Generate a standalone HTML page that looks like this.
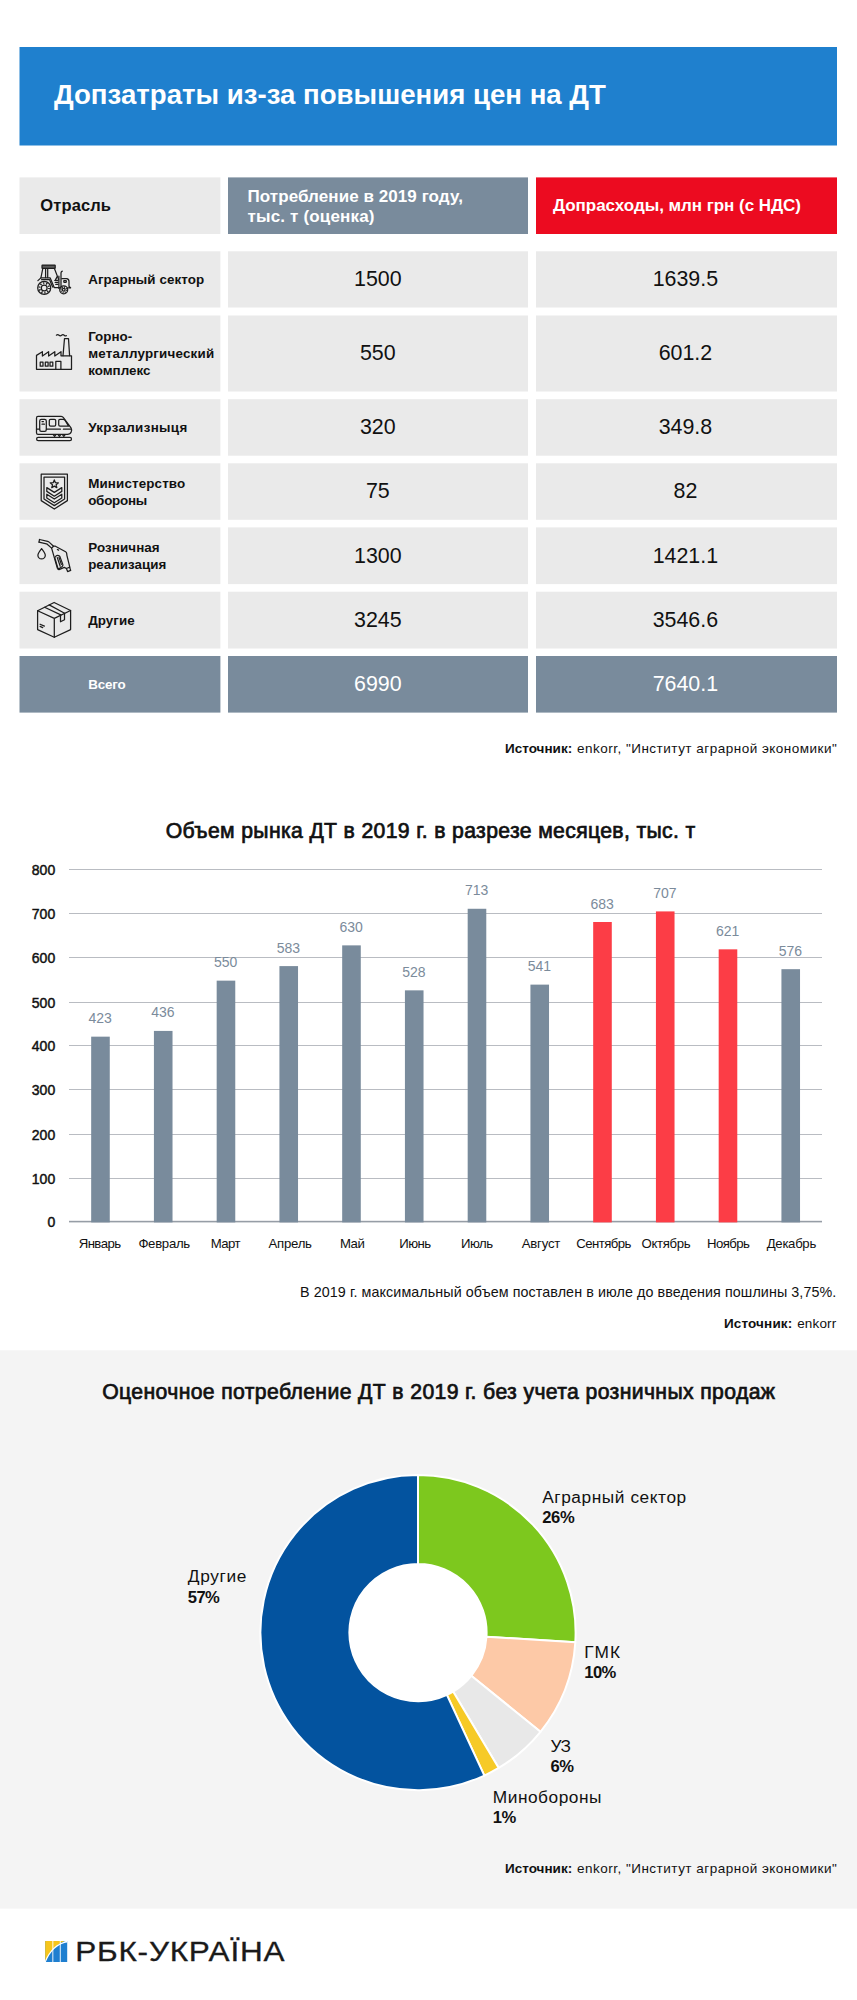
<!DOCTYPE html>
<html lang="ru"><head><meta charset="utf-8"><title>Допзатраты из-за повышения цен на ДТ</title>
<style>
html,body{margin:0;padding:0;background:#fff}
body{width:857px;height:2000px;position:relative;overflow:hidden;font-family:"Liberation Sans", Arial, sans-serif}
.b{position:absolute}
.s{position:absolute;left:0;top:0}
.t{position:absolute;white-space:nowrap;font-weight:400}
</style></head><body>
<svg class="s" width="857" height="2000" viewBox="0 0 857 2000"><rect x="19.5" y="47" width="817.5" height="98.5" fill="#1f80ce"/><rect x="19.5" y="177.4" width="200.9" height="56.6" fill="#eaeaea"/><rect x="228" y="177.4" width="300" height="56.6" fill="#798b9c"/><rect x="536" y="177.4" width="301" height="56.6" fill="#ec0b20"/><rect x="19.5" y="251.3" width="200.9" height="56.2" fill="#eaeaea"/><rect x="228" y="251.3" width="300" height="56.2" fill="#eaeaea"/><rect x="536" y="251.3" width="301" height="56.2" fill="#eaeaea"/><rect x="19.5" y="315.5" width="200.9" height="76" fill="#eaeaea"/><rect x="228" y="315.5" width="300" height="76" fill="#eaeaea"/><rect x="536" y="315.5" width="301" height="76" fill="#eaeaea"/><rect x="19.5" y="399.2" width="200.9" height="56.5" fill="#eaeaea"/><rect x="228" y="399.2" width="300" height="56.5" fill="#eaeaea"/><rect x="536" y="399.2" width="301" height="56.5" fill="#eaeaea"/><rect x="19.5" y="463.3" width="200.9" height="56.5" fill="#eaeaea"/><rect x="228" y="463.3" width="300" height="56.5" fill="#eaeaea"/><rect x="536" y="463.3" width="301" height="56.5" fill="#eaeaea"/><rect x="19.5" y="527.4" width="200.9" height="56.7" fill="#eaeaea"/><rect x="228" y="527.4" width="300" height="56.7" fill="#eaeaea"/><rect x="536" y="527.4" width="301" height="56.7" fill="#eaeaea"/><rect x="19.5" y="591.7" width="200.9" height="56.8" fill="#eaeaea"/><rect x="228" y="591.7" width="300" height="56.8" fill="#eaeaea"/><rect x="536" y="591.7" width="301" height="56.8" fill="#eaeaea"/><rect x="19.5" y="656" width="200.9" height="56.6" fill="#798b9c"/><rect x="228" y="656" width="300" height="56.6" fill="#798b9c"/><rect x="536" y="656" width="301" height="56.6" fill="#798b9c"/><rect x="0" y="1350.3" width="857" height="558.3" fill="#f4f4f4"/><rect x="69.0" y="1178" width="753.0" height="1" fill="#b9bcc2"/><rect x="69.0" y="1134" width="753.0" height="1" fill="#b9bcc2"/><rect x="69.0" y="1089" width="753.0" height="1" fill="#b9bcc2"/><rect x="69.0" y="1045" width="753.0" height="1" fill="#b9bcc2"/><rect x="69.0" y="1002" width="753.0" height="1" fill="#b9bcc2"/><rect x="69.0" y="957" width="753.0" height="1" fill="#b9bcc2"/><rect x="69.0" y="913" width="753.0" height="1" fill="#b9bcc2"/><rect x="69.0" y="869" width="753.0" height="1" fill="#b9bcc2"/><rect x="69.0" y="1220.8" width="753.0" height="1.6" fill="#969da6"/><rect x="91.17" y="1036.66" width="18.6" height="185.74" fill="#798b9c"/><rect x="153.92" y="1030.92" width="18.6" height="191.48" fill="#798b9c"/><rect x="216.67" y="980.65" width="18.6" height="241.75" fill="#798b9c"/><rect x="279.43" y="966.1" width="18.6" height="256.3" fill="#798b9c"/><rect x="342.18" y="945.37" width="18.6" height="277.03" fill="#798b9c"/><rect x="404.93" y="990.35" width="18.6" height="232.05" fill="#798b9c"/><rect x="467.68" y="908.77" width="18.6" height="313.63" fill="#798b9c"/><rect x="530.43" y="984.62" width="18.6" height="237.78" fill="#798b9c"/><rect x="593.18" y="922" width="18.6" height="300.4" fill="#fc3d46"/><rect x="655.93" y="911.41" width="18.6" height="310.99" fill="#fc3d46"/><rect x="718.68" y="949.34" width="18.6" height="273.06" fill="#fc3d46"/><rect x="781.43" y="969.18" width="18.6" height="253.22" fill="#798b9c"/><circle cx="418.0" cy="1632.6" r="157.6" fill="#fff"/><path d="M418 1475A157.6 157.6 0 0 1 575.31 1642.22L486.47 1636.79A68.6 68.6 0 0 0 418 1564Z" fill="#7dc81e" stroke="#fff" stroke-width="2" stroke-linejoin="round"/><path d="M575.31 1642.22A157.6 157.6 0 0 1 540.48 1731.78L471.31 1675.77A68.6 68.6 0 0 0 486.47 1636.79Z" fill="#fdc9a7" stroke="#fff" stroke-width="2" stroke-linejoin="round"/><path d="M540.48 1731.78A157.6 157.6 0 0 1 498.7 1767.97L453.13 1691.52A68.6 68.6 0 0 0 471.31 1675.77Z" fill="#e8e8e8" stroke="#fff" stroke-width="2" stroke-linejoin="round"/><path d="M498.7 1767.97A157.6 157.6 0 0 1 484.36 1775.55L446.88 1694.82A68.6 68.6 0 0 0 453.13 1691.52Z" fill="#f6ca27" stroke="#fff" stroke-width="2" stroke-linejoin="round"/><path d="M484.36 1775.55A157.6 157.6 0 1 1 418 1475L418 1564A68.6 68.6 0 1 0 446.88 1694.82Z" fill="#03539f" stroke="#fff" stroke-width="2" stroke-linejoin="round"/><circle cx="418.0" cy="1632.6" r="68.6" fill="#fff"/><rect x="45.2" y="1941.0" width="22.0" height="21.0" fill="#1f7fd0"/><path d="M45.2 1941.0 H64.7 Q54.2 1944.0 45.2 1961.0 Z" fill="#f6c51c"/><path d="M45.2 1962.0 Q52.2 1944.5 67.2 1941.6" fill="none" stroke="#fff" stroke-width="1.1"/><rect x="52.400000000000006" y="1941.0" width="0.9" height="21.0" fill="#fff"/><rect x="59.800000000000004" y="1941.0" width="0.9" height="21.0" fill="#fff"/><path d="M63.2 1941.0 H67.2 V1942.4 Z" fill="#fff"/><g><rect x="42" y="265.1" width="13.2" height="3.2" rx="0.4" fill="#5a5a5a" stroke="#1c1c1c" stroke-width="1.2"/><path d="M42.8 268.5 L40.9 277.9 M45.6 268.5 V277.6 M47.7 268.5 V277.6 M54.4 268.5 L58.6 279.4" fill="none" stroke="#1e1e1e" stroke-width="1.25" stroke-linejoin="round" stroke-linecap="round" /><path d="M37.9 280.6 L40.9 277.9 H50.2 L54.2 287.4" fill="none" stroke="#1e1e1e" stroke-width="1.25" stroke-linejoin="round" stroke-linecap="round" /><path d="M41.6 279.7 H49.6 L52.6 287" fill="none" stroke="#1e1e1e" stroke-width="1.25" stroke-linejoin="round" stroke-linecap="round" /><circle cx="44.2" cy="287.9" r="6.5" fill="none" stroke="#1e1e1e" stroke-width="1.25" stroke-linejoin="round" stroke-linecap="round" /><circle cx="44.2" cy="287.9" r="2.9" fill="none" stroke="#1e1e1e" stroke-width="1.25" stroke-linejoin="round" stroke-linecap="round" /><circle cx="44.2" cy="287.9" r="4.8" fill="none" stroke="#1c1c1c" stroke-width="1.9" stroke-dasharray="1.2 1.8"/><circle cx="63.7" cy="289.8" r="4.0" fill="none" stroke="#1e1e1e" stroke-width="1.25" stroke-linejoin="round" stroke-linecap="round" /><circle cx="63.7" cy="289.8" r="1.4" fill="none" stroke="#1e1e1e" stroke-width="1.25" stroke-linejoin="round" stroke-linecap="round" /><circle cx="63.7" cy="289.8" r="2.8" fill="none" stroke="#1c1c1c" stroke-width="1.3" stroke-dasharray="1 1.2"/><path d="M58.9 276 V288.4 M61 272.8 V288.2 M61 272.8 Q61.2 271.6 62.3 271.2" fill="none" stroke="#1e1e1e" stroke-width="1.25" stroke-linejoin="round" stroke-linecap="round" /><path d="M61.8 278.7 H66.6 Q69 278.9 69 281.6 V286.4 L70.6 287.8 H67.6" fill="none" stroke="#1e1e1e" stroke-width="1.25" stroke-linejoin="round" stroke-linecap="round" /><rect x="63.8" y="280.7" width="2.5" height="1.6" rx="0.2" fill="none" stroke="#1e1e1e" stroke-width="1.25" stroke-linejoin="round" stroke-linecap="round" stroke-width="1.1"/><path d="M54.8 280.4 H58 M55.2 282.4 H58 M55.8 284.4 H58 M54.4 287.6 H59.6" fill="none" stroke="#1e1e1e" stroke-width="1.25" stroke-linejoin="round" stroke-linecap="round" stroke-width="1.1"/><path d="M55.6 279.6 L57.2 276.6" fill="none" stroke="#1e1e1e" stroke-width="1.25" stroke-linejoin="round" stroke-linecap="round" stroke-width="1.1"/></g><g><path d="M36.5 369.3 V355.4 L42.4 351.7 V356 L48.6 351.7 V356 L54.8 351.7 V356 L61 351.7 V355.8 H71.5 V369.3 Z" fill="none" stroke="#1e1e1e" stroke-width="1.25" stroke-linejoin="round" stroke-linecap="round" /><path d="M63 355.6 L64.5 338.6 H68.5 L69.6 355.6" fill="none" stroke="#1e1e1e" stroke-width="1.25" stroke-linejoin="round" stroke-linecap="round" /><path d="M56.4 335.2 q1.3 -1.2 2.6 0 t2.6 0 t2.6 0 t2.2 0.4" fill="none" stroke="#1e1e1e" stroke-width="1.25" stroke-linejoin="round" stroke-linecap="round" /><rect x="40.2" y="362.2" width="2.8" height="4.0" rx="0" fill="none" stroke="#1e1e1e" stroke-width="1.25" stroke-linejoin="round" stroke-linecap="round" stroke-width="1.2"/><rect x="45.3" y="362.2" width="2.8" height="4.0" rx="0" fill="none" stroke="#1e1e1e" stroke-width="1.25" stroke-linejoin="round" stroke-linecap="round" stroke-width="1.2"/><rect x="50" y="362.2" width="2.8" height="4.0" rx="0" fill="none" stroke="#1e1e1e" stroke-width="1.25" stroke-linejoin="round" stroke-linecap="round" stroke-width="1.2"/><path d="M55.8 369.3 V361.4 H60.9 V369.3" fill="none" stroke="#1e1e1e" stroke-width="1.25" stroke-linejoin="round" stroke-linecap="round" /></g><g><path d="M38 416.4 H61.2 Q62.6 416.5 63.4 417.6 L71 427.8 Q72.2 430 71.2 432 Q70.2 434.4 67.4 434.4 H38 Q36.5 434.4 36.5 432.8 V418 Q36.5 416.4 38 416.4 Z" fill="none" stroke="#1e1e1e" stroke-width="1.25" stroke-linejoin="round" stroke-linecap="round" /><rect x="39.7" y="419.3" width="6.6" height="12.0" rx="1.6" fill="none" stroke="#1e1e1e" stroke-width="1.25" stroke-linejoin="round" stroke-linecap="round" /><path d="M42 421.6 H43.4 M42 424.2 H44.4" fill="none" stroke="#1e1e1e" stroke-width="1.25" stroke-linejoin="round" stroke-linecap="round" stroke-width="1.1"/><rect x="49.3" y="419.3" width="6.4" height="6.8" rx="1.3" fill="none" stroke="#1e1e1e" stroke-width="1.25" stroke-linejoin="round" stroke-linecap="round" /><path d="M60 419.3 H63.4 Q64.2 419.3 64.8 420 L68.6 426.1 H60 Q58.7 426.1 58.7 424.8 V420.6 Q58.7 419.3 60 419.3 Z" fill="none" stroke="#1e1e1e" stroke-width="1.25" stroke-linejoin="round" stroke-linecap="round" /><path d="M46.4 429.2 H60.4 M63.4 429.2 H71 M36.5 429.2 H39.6" fill="none" stroke="#1e1e1e" stroke-width="1.25" stroke-linejoin="round" stroke-linecap="round" /><path d="M53.4 434.8 l1.2 1.6 l1.2 -1.6 M58.2 434.8 l1.2 1.6 l1.2 -1.6 M62.6 434.8 l1.2 1.6 l1.2 -1.6" fill="none" stroke="#1e1e1e" stroke-width="1.25" stroke-linejoin="round" stroke-linecap="round" stroke-width="1.1"/><rect x="36.6" y="437.3" width="34.9" height="3.3" rx="1.65" fill="none" stroke="#1e1e1e" stroke-width="1.25" stroke-linejoin="round" stroke-linecap="round" /></g><g><path d="M41.2 474.2 H67.4 V500.6 L54.3 509 L41.2 500.6 Z" fill="none" stroke="#1e1e1e" stroke-width="1.25" stroke-linejoin="round" stroke-linecap="round" /><path d="M44 477 H64.6 V499 L54.3 505.6 L44 499 Z" fill="none" stroke="#1e1e1e" stroke-width="1.25" stroke-linejoin="round" stroke-linecap="round" /><path d="M54.30 479.90 L55.42 482.66 L58.39 482.87 L56.11 484.79 L56.83 487.68 L54.30 486.10 L51.77 487.68 L52.49 484.79 L50.21 482.87 L53.18 482.66 Z" fill="none" stroke="#1e1e1e" stroke-width="1.25" stroke-linejoin="round" stroke-linecap="round" /><path d="M46.8 487.6 L54.3 492.4 L61.8 487.6 V491.4 L54.3 496.2 L46.8 491.4 Z" fill="none" stroke="#1e1e1e" stroke-width="1.25" stroke-linejoin="round" stroke-linecap="round" /><path d="M46.8 494.2 L54.3 499 L61.8 494.2 V498 L54.3 502.8 L46.8 498 Z" fill="none" stroke="#1e1e1e" stroke-width="1.25" stroke-linejoin="round" stroke-linecap="round" /></g><g><path d="M39.5 539.5 L47.6 541.3 Q48.6 541.6 49.4 542.4 L53.5 546.2" fill="none" stroke="#1e1e1e" stroke-width="1.25" stroke-linejoin="round" stroke-linecap="round" /><path d="M39 542.2 L46.4 543.9 Q47.2 544.1 47.8 544.7 L51.6 548.1" fill="none" stroke="#1e1e1e" stroke-width="1.25" stroke-linejoin="round" stroke-linecap="round" /><path d="M39.5 539.5 L39 542.2" fill="none" stroke="#1e1e1e" stroke-width="1.25" stroke-linejoin="round" stroke-linecap="round" /><path d="M51.6 548.1 L53.5 546.2 H55.4 L65.6 551.7 Q66.6 552.3 66.7 553.6 L66.9 555.3 L69.8 567.2 L66.4 568.5 L64.3 567.4 L59.6 569.4 Q58 570 57.4 568.4 Z" fill="none" stroke="#1e1e1e" stroke-width="1.25" stroke-linejoin="round" stroke-linecap="round" /><path d="M66.4 568.5 L67.6 571.6 L70.7 570.4 L69.6 567.3" fill="none" stroke="#1e1e1e" stroke-width="1.25" stroke-linejoin="round" stroke-linecap="round" /><path d="M55.6 556.4 Q57.6 554.4 59.4 556 Q60 556.6 60.3 557.6 L62.8 564.4 Q63.2 565.6 62.2 566.4 L59.4 568.4 Q58.2 569 57.7 567.6 L55 558.4 Q54.7 557.2 55.6 556.4 Z" fill="none" stroke="#1e1e1e" stroke-width="1.25" stroke-linejoin="round" stroke-linecap="round" /><path d="M57.3 557.6 L60.2 566.2 M59 557.4 L61.4 564.4" fill="none" stroke="#1e1e1e" stroke-width="1.25" stroke-linejoin="round" stroke-linecap="round" stroke-width="1.1"/><path d="M57.4 549.5 L58.6 550.1" fill="none" stroke="#1e1e1e" stroke-width="1.25" stroke-linejoin="round" stroke-linecap="round" stroke-width="1.1"/><path d="M41.6 548.6 Q45.3 553.4 45.3 555.2 A3.7 3.7 0 0 1 37.9 555.2 Q37.9 553.4 41.6 548.6 Z" fill="none" stroke="#1e1e1e" stroke-width="1.25" stroke-linejoin="round" stroke-linecap="round" /></g><g><path d="M54.1 602.5 L70.6 610.5 V629.6 L54.3 637.3 L37.6 629.6 V610.7 Z" fill="none" stroke="#1e1e1e" stroke-width="1.25" stroke-linejoin="round" stroke-linecap="round" /><path d="M37.6 610.7 L54.3 618.4 L70.6 610.5 M54.3 618.4 V637.3" fill="none" stroke="#1e1e1e" stroke-width="1.25" stroke-linejoin="round" stroke-linecap="round" /><path d="M44.6 607.3 L60.8 614.9 M49.2 604.9 L64.6 613.2" fill="none" stroke="#1e1e1e" stroke-width="1.25" stroke-linejoin="round" stroke-linecap="round" /><path d="M60.5 615.3 V621.8 L64.5 619.7 V613.4" fill="none" stroke="#1e1e1e" stroke-width="1.25" stroke-linejoin="round" stroke-linecap="round" /><path d="M40.1 624.2 L44.4 626.1 M40.1 626.4 L42.7 627.6" fill="none" stroke="#1e1e1e" stroke-width="1.25" stroke-linejoin="round" stroke-linecap="round" stroke-width="1.1"/></g></svg>
<span class="t" style="left:54px;top:81.24px;font-size:27.6px;line-height:27.6px;color:#fff;font-weight:700;letter-spacing:0.01px">Допзатраты из-за повышения цен на ДТ</span>
<span class="t" style="left:40.3px;top:197.03px;font-size:16.5px;line-height:16.5px;color:#111;font-weight:700;letter-spacing:0.12px">Отрасль</span>
<span class="t" style="left:247.5px;top:187.91px;font-size:17px;line-height:17px;color:#fff;font-weight:700;letter-spacing:0.07px">Потребление в 2019 году,</span>
<span class="t" style="left:247.5px;top:207.91px;font-size:17px;line-height:17px;color:#fff;font-weight:700;letter-spacing:0.17px">тыс. т (оценка)</span>
<span class="t" style="left:553px;top:197.41px;font-size:17px;line-height:17px;color:#fff;font-weight:700;letter-spacing:-0.04px">Допрасходы, млн грн (с НДС)</span>
<span class="t" style="left:88.2px;top:273.01px;font-size:13.4px;line-height:13.4px;color:#111;font-weight:700;letter-spacing:0.08px">Аграрный сектор</span>
<span class="t" style="left:354px;top:268.68px;font-size:21.4px;line-height:21.4px;color:#111">1500</span>
<span class="t" style="left:652.68px;top:268.68px;font-size:21.4px;line-height:21.4px;color:#111">1639.5</span>
<span class="t" style="left:88.2px;top:330.41px;font-size:13.4px;line-height:13.4px;color:#111;font-weight:700">Горно-</span>
<span class="t" style="left:88.2px;top:347.11px;font-size:13.4px;line-height:13.4px;color:#111;font-weight:700;letter-spacing:0.2px">металлургический</span>
<span class="t" style="left:88.2px;top:363.81px;font-size:13.4px;line-height:13.4px;color:#111;font-weight:700">комплекс</span>
<span class="t" style="left:359.95px;top:342.78px;font-size:21.4px;line-height:21.4px;color:#111">550</span>
<span class="t" style="left:658.63px;top:342.78px;font-size:21.4px;line-height:21.4px;color:#111">601.2</span>
<span class="t" style="left:88.2px;top:421.06px;font-size:13.4px;line-height:13.4px;color:#111;font-weight:700;letter-spacing:0.33px">Укрзализныця</span>
<span class="t" style="left:359.95px;top:416.73px;font-size:21.4px;line-height:21.4px;color:#111">320</span>
<span class="t" style="left:658.63px;top:416.73px;font-size:21.4px;line-height:21.4px;color:#111">349.8</span>
<span class="t" style="left:88.2px;top:476.81px;font-size:13.4px;line-height:13.4px;color:#111;font-weight:700;letter-spacing:0.13px">Министерство</span>
<span class="t" style="left:88.2px;top:493.51px;font-size:13.4px;line-height:13.4px;color:#111;font-weight:700;letter-spacing:-0.25px">обороны</span>
<span class="t" style="left:365.9px;top:480.83px;font-size:21.4px;line-height:21.4px;color:#111">75</span>
<span class="t" style="left:673.5px;top:480.83px;font-size:21.4px;line-height:21.4px;color:#111">82</span>
<span class="t" style="left:88.2px;top:541.01px;font-size:13.4px;line-height:13.4px;color:#111;font-weight:700;letter-spacing:0.1px">Розничная</span>
<span class="t" style="left:88.2px;top:557.71px;font-size:13.4px;line-height:13.4px;color:#111;font-weight:700">реализация</span>
<span class="t" style="left:354px;top:545.83px;font-size:21.4px;line-height:21.4px;color:#111">1300</span>
<span class="t" style="left:652.68px;top:545.83px;font-size:21.4px;line-height:21.4px;color:#111">1421.1</span>
<span class="t" style="left:88.2px;top:613.71px;font-size:13.4px;line-height:13.4px;color:#111;font-weight:700;letter-spacing:0.05px">Другие</span>
<span class="t" style="left:354px;top:610.18px;font-size:21.4px;line-height:21.4px;color:#111">3245</span>
<span class="t" style="left:652.68px;top:610.18px;font-size:21.4px;line-height:21.4px;color:#111">3546.6</span>
<span class="t" style="left:88.2px;top:677.91px;font-size:13.4px;line-height:13.4px;color:#fff;font-weight:700;letter-spacing:-0.19px">Всего</span>
<span class="t" style="left:354px;top:674.38px;font-size:21.4px;line-height:21.4px;color:#fff">6990</span>
<span class="t" style="left:652.68px;top:674.38px;font-size:21.4px;line-height:21.4px;color:#fff">7640.1</span>
<span class="t" style="left:505px;top:741.87px;font-size:13.5px;line-height:13.5px;color:#111;font-weight:700;letter-spacing:0.01px">Источник:</span>
<span class="t" style="left:577px;top:741.87px;font-size:13.5px;line-height:13.5px;color:#111;letter-spacing:0.49px">enkorr, &quot;Институт аграрной экономики&quot;</span>
<span class="t" style="left:165.7px;top:820.05px;font-size:21.2px;line-height:21.2px;color:#111;letter-spacing:0.35px;-webkit-text-stroke:0.7px #111">Объем рынка ДТ в 2019 г. в разрезе месяцев, тыс. т</span>
<span class="t" style="left:47.4px;top:1215.05px;font-size:14px;line-height:14px;color:#111;-webkit-text-stroke:0.45px #111">0</span>
<span class="t" style="left:31.84px;top:1171.75px;font-size:14px;line-height:14px;color:#111;-webkit-text-stroke:0.45px #111">100</span>
<span class="t" style="left:31.84px;top:1127.75px;font-size:14px;line-height:14px;color:#111;-webkit-text-stroke:0.45px #111">200</span>
<span class="t" style="left:31.84px;top:1082.75px;font-size:14px;line-height:14px;color:#111;-webkit-text-stroke:0.45px #111">300</span>
<span class="t" style="left:31.84px;top:1038.75px;font-size:14px;line-height:14px;color:#111;-webkit-text-stroke:0.45px #111">400</span>
<span class="t" style="left:31.84px;top:995.75px;font-size:14px;line-height:14px;color:#111;-webkit-text-stroke:0.45px #111">500</span>
<span class="t" style="left:31.84px;top:950.75px;font-size:14px;line-height:14px;color:#111;-webkit-text-stroke:0.45px #111">600</span>
<span class="t" style="left:31.84px;top:906.75px;font-size:14px;line-height:14px;color:#111;-webkit-text-stroke:0.45px #111">700</span>
<span class="t" style="left:31.84px;top:862.75px;font-size:14px;line-height:14px;color:#111;-webkit-text-stroke:0.45px #111">800</span>
<span class="t" style="left:88.5px;top:1011.21px;font-size:14px;line-height:14px;color:#7b8b9b">423</span>
<span class="t" style="left:78.7px;top:1236.63px;font-size:13.2px;line-height:13.2px;color:#111;letter-spacing:-0.56px">Январь</span>
<span class="t" style="left:151.25px;top:1005.47px;font-size:14px;line-height:14px;color:#7b8b9b">436</span>
<span class="t" style="left:138.4px;top:1236.63px;font-size:13.2px;line-height:13.2px;color:#111;letter-spacing:-0.3px">Февраль</span>
<span class="t" style="left:214px;top:955.2px;font-size:14px;line-height:14px;color:#7b8b9b">550</span>
<span class="t" style="left:210.8px;top:1236.63px;font-size:13.2px;line-height:13.2px;color:#111;letter-spacing:-0.59px">Март</span>
<span class="t" style="left:276.75px;top:940.65px;font-size:14px;line-height:14px;color:#7b8b9b">583</span>
<span class="t" style="left:268.6px;top:1236.63px;font-size:13.2px;line-height:13.2px;color:#111;letter-spacing:-0.27px">Апрель</span>
<span class="t" style="left:339.5px;top:919.92px;font-size:14px;line-height:14px;color:#7b8b9b">630</span>
<span class="t" style="left:340px;top:1236.63px;font-size:13.2px;line-height:13.2px;color:#111;letter-spacing:-0.52px">Май</span>
<span class="t" style="left:402.25px;top:964.9px;font-size:14px;line-height:14px;color:#7b8b9b">528</span>
<span class="t" style="left:399.35px;top:1236.63px;font-size:13.2px;line-height:13.2px;color:#111;letter-spacing:-0.6px">Июнь</span>
<span class="t" style="left:465px;top:883.32px;font-size:14px;line-height:14px;color:#7b8b9b">713</span>
<span class="t" style="left:461px;top:1236.63px;font-size:13.2px;line-height:13.2px;color:#111;letter-spacing:-0.49px">Июль</span>
<span class="t" style="left:527.75px;top:959.17px;font-size:14px;line-height:14px;color:#7b8b9b">541</span>
<span class="t" style="left:521.65px;top:1236.63px;font-size:13.2px;line-height:13.2px;color:#111;letter-spacing:-0.2px">Август</span>
<span class="t" style="left:590.5px;top:896.55px;font-size:14px;line-height:14px;color:#7b8b9b">683</span>
<span class="t" style="left:576.25px;top:1236.63px;font-size:13.2px;line-height:13.2px;color:#111;letter-spacing:-0.57px">Сентябрь</span>
<span class="t" style="left:653.25px;top:885.96px;font-size:14px;line-height:14px;color:#7b8b9b">707</span>
<span class="t" style="left:641.6px;top:1236.63px;font-size:13.2px;line-height:13.2px;color:#111;letter-spacing:-0.35px">Октябрь</span>
<span class="t" style="left:716px;top:923.89px;font-size:14px;line-height:14px;color:#7b8b9b">621</span>
<span class="t" style="left:707.05px;top:1236.63px;font-size:13.2px;line-height:13.2px;color:#111;letter-spacing:-0.57px">Ноябрь</span>
<span class="t" style="left:778.75px;top:943.73px;font-size:14px;line-height:14px;color:#7b8b9b">576</span>
<span class="t" style="left:766.75px;top:1236.63px;font-size:13.2px;line-height:13.2px;color:#111;letter-spacing:-0.32px">Декабрь</span>
<span class="t" style="left:300px;top:1284.6px;font-size:14.3px;line-height:14.3px;color:#111;letter-spacing:0.09px">В 2019 г. максимальный объем поставлен в июле до введения пошлины 3,75%.</span>
<span class="t" style="left:724px;top:1316.57px;font-size:13.5px;line-height:13.5px;color:#111;font-weight:700;letter-spacing:0.14px">Источник:</span>
<span class="t" style="left:797.2px;top:1316.57px;font-size:13.5px;line-height:13.5px;color:#111;letter-spacing:0.15px">enkorr</span>
<span class="t" style="left:102.2px;top:1380.55px;font-size:21.2px;line-height:21.2px;color:#111;letter-spacing:0.37px;-webkit-text-stroke:0.7px #111">Оценочное потребление ДТ в 2019 г. без учета розничных продаж</span>
<span class="t" style="left:505px;top:1862.07px;font-size:13.5px;line-height:13.5px;color:#111;font-weight:700;letter-spacing:0.01px">Источник:</span>
<span class="t" style="left:577px;top:1862.07px;font-size:13.5px;line-height:13.5px;color:#111;letter-spacing:0.49px">enkorr, &quot;Институт аграрной экономики&quot;</span>
<span class="t" style="left:542.2px;top:1488.56px;font-size:17.3px;line-height:17.3px;color:#111;letter-spacing:0.57px">Аграрный сектор</span>
<span class="t" style="left:542.2px;top:1509.75px;font-size:16.6px;line-height:16.6px;color:#111;font-weight:700;letter-spacing:-0.31px">26%</span>
<span class="t" style="left:584.3px;top:1643.76px;font-size:17.3px;line-height:17.3px;color:#111;letter-spacing:1.13px">ГМК</span>
<span class="t" style="left:584.3px;top:1664.95px;font-size:16.6px;line-height:16.6px;color:#111;font-weight:700;letter-spacing:-0.6px">10%</span>
<span class="t" style="left:550.6px;top:1737.86px;font-size:17.3px;line-height:17.3px;color:#111;letter-spacing:-0.6px">УЗ</span>
<span class="t" style="left:550.6px;top:1759.05px;font-size:16.6px;line-height:16.6px;color:#111;font-weight:700;letter-spacing:-0.6px">6%</span>
<span class="t" style="left:492.8px;top:1789.26px;font-size:17.3px;line-height:17.3px;color:#111;letter-spacing:0.52px">Минобороны</span>
<span class="t" style="left:492.8px;top:1810.45px;font-size:16.6px;line-height:16.6px;color:#111;font-weight:700;letter-spacing:-0.6px">1%</span>
<span class="t" style="left:187.8px;top:1568.36px;font-size:17.3px;line-height:17.3px;color:#111;letter-spacing:0.63px">Другие</span>
<span class="t" style="left:187.8px;top:1589.55px;font-size:16.6px;line-height:16.6px;color:#111;font-weight:700;letter-spacing:-0.6px">57%</span>
<span class="t" style="left:75.2px;top:1935.14px;font-size:31.5px;line-height:31.5px;color:#1a1a1a;letter-spacing:0.8px;transform:scaleY(0.9);transform-origin:0 84.65%;-webkit-text-stroke:0.35px #1a1a1a">РБК-УКРАЇНА</span>
</body></html>
